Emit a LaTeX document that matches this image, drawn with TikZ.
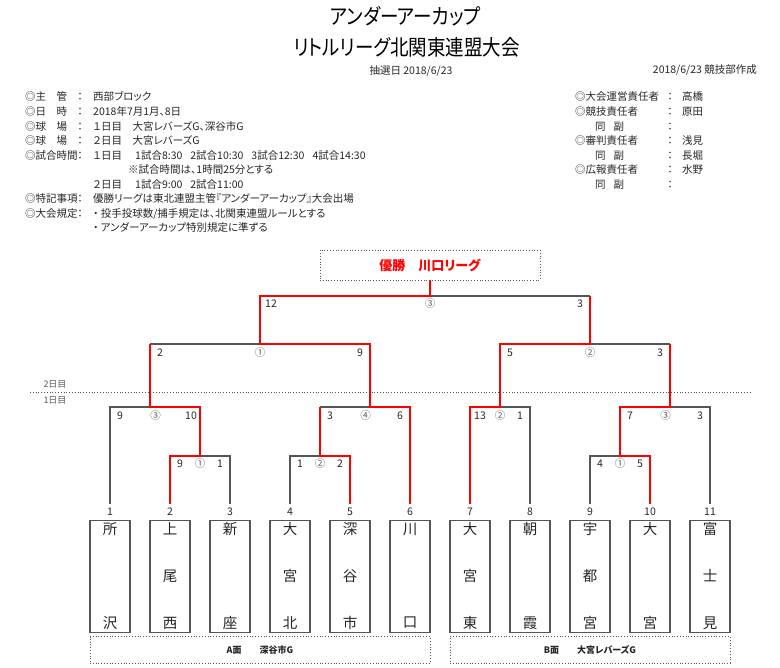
\documentclass[tikz,border=0pt]{standalone}
\usepackage{fontspec}
\setmainfont{Noto Sans CJK JP}[RawFeature=+palt]
\usetikzlibrary{calc}
\definecolor{linegray}{HTML}{555555}
\definecolor{textgray}{HTML}{262626}
\definecolor{circgray}{HTML}{5A5A5A}
\tikzset{
	teambox/.style={draw=linegray, line width=1.2pt, minimum width=40pt, minimum height=111.7pt, inner sep=0pt, anchor=north},
	boxchar/.style={font=\fontsize{14.5}{14.5}\selectfont, text=textgray, inner sep=0pt},
	num/.style={font=\fontsize{10.5}{11}\selectfont, text=textgray, inner sep=0pt},
	circ/.style={font=\fontsize{10.5}{11}\selectfont, text=circgray, inner sep=0pt},
	info/.style={font=\fontsize{10.5}{11}\selectfont, text=textgray, inner sep=0pt, anchor=base west},
	lost/.style={draw=linegray, line width=1.1pt},
	won/.style={draw=red, line width=2pt},
	court/.style={draw=linegray, dotted, line width=0.8pt, minimum height=26.3pt, inner sep=0pt, font=\fontsize{9}{9}\selectfont\bfseries, text=textgray}
}
\newcommand{\team}[5] % x in px, number, top / middle / bottom character
{
	% box and its number
	\node[teambox] (t#2) at (#1,520) {};
	\node[num] (n#2) at (#1,511.7) {#2};
	\coordinate (e#2) at (#1,504);
	% name, written downwards
	\node[boxchar] (t#2a) at (#1,529) {#3};
	\node[boxchar] (t#2b) at (#1,576) {#4};
	\node[boxchar] (t#2c) at (#1,623) {#5};
}
\newcommand{\matchscore}[8] % name, y, then x and text of left, circle, right
{
	\node[num] (#1l) at (#3,#2) {#4};
	\node[circ] (#1m) at (#5,#2) {#6};
	\node[num] (#1r) at (#7,#2) {#8};
}
\newcommand{\inforow}[4] % name, baseline y, label, value
{
	\node[info] (#1l) at (25,#2) {#3};
	\node[info, anchor=base] (#1c) at (80,#2) {：};
	\node[info] (#1v) at (93,#2) {#4};
}
\newcommand{\staffrow}[4] % name, baseline y, label, value
{
	\node[info] (#1l) at (575,#2) {#3};
	\node[info, anchor=base] (#1c) at (670,#2) {：};
	\node[info] (#1v) at (682,#2) {#4};
}

\begin{document}
\begin{tikzpicture}[x=1pt, y=-1pt]
	% 780 x 668 px, y downwards
	\useasboundingbox (0,0) rectangle (780,668);

	% heading
	\node[text=black] (title) at (405.5,16) {\fontsize{21.5}{21.5}\selectfont\scalebox{0.86}[1]{アンダーアーカップ}};
	\node[text=black] (subtitle) at (406.5,47) {\fontsize{21.5}{21.5}\selectfont\scalebox{0.86}[1]{リトルリーグ北関東連盟大会}};
	\node[num] (drawday) at (411,71) {抽選日 2018/6/23};
	\node[num, anchor=east] (made) at (757,70) {2018/6/23 競技部作成};

	% left block
	\inforow{host}{101}{◎主\hspace{10.5pt}管}{西部ブロック}
	\inforow{date}{115.5}{◎日\hspace{10.5pt}時}{2018年7月1月、8日}
	\inforow{parka}{130.5}{◎球\hspace{10.5pt}場}{１日目\hspace{10.5pt}大宮レバーズG、深谷市G}
	\inforow{parkb}{145}{◎球\hspace{10.5pt}場}{２日目\hspace{10.5pt}大宮レバーズG}
	\inforow{time}{159.5}{◎試合時間}{１日目}
	\node[info] (timea) at (135,159.5) {1試合8:30\hspace{8pt}2試合10:30\hspace{8pt}3試合12:30\hspace{8pt}4試合14:30};
	\node[info] (timenote) at (128,174) {※試合時間は、1時間25分とする};
	\node[info] (dayb) at (93,188.5) {２日目};
	\node[info] (timeb) at (135,188.5) {1試合9:00\hspace{8pt}2試合11:00};
	\inforow{note}{203}{◎特記事項}{優勝リーグは東北連盟主管『アンダーアーカップ』大会出場}
	\inforow{rule}{217.5}{◎大会規定}{・ 投手投球数/捕手規定は、北関東連盟ルールとする}
	\node[info] (ruleb) at (93,232) {・ アンダーアーカップ特別規定に準ずる};

	% right block
	\staffrow{boss}{101}{◎大会運営責任者}{高橋}
	\staffrow{tech}{115.5}{◎競技責任者}{原田}
	\staffrow{techsub}{130.5}{\hspace{20pt}同\hspace{8pt}副}{}
	\staffrow{ump}{145}{◎審判責任者}{浅見}
	\staffrow{umpsub}{159.5}{\hspace{20pt}同\hspace{8pt}副}{長堀}
	\staffrow{press}{174}{◎広報責任者}{水野}
	\staffrow{presssub}{188.5}{\hspace{20pt}同\hspace{8pt}副}{}

	% champion
	\node[draw=linegray, dotted, line width=0.8pt, minimum width=220pt, minimum height=30pt, inner sep=0pt,
		text=red, font=\fontsize{13}{13}\selectfont\bfseries] (champ) at (430,265) {優勝\hspace{13pt}川口リーグ};

	% day line
	\draw[linegray, dotted, line width=0.8pt] (30,392.3) -- (750,392.3);
	\node[circ, font=\fontsize{9}{9}\selectfont] (dayii) at (55,384) {2日目};
	\node[circ, font=\fontsize{9}{9}\selectfont] (dayi) at (55,400) {1日目};

	% teams
	\team{110}{1}{所}{}{沢}
	\team{170}{2}{上}{尾}{西}
	\team{230}{3}{新}{}{座}
	\team{290}{4}{大}{宮}{北}
	\team{350}{5}{深}{谷}{市}
	\team{410}{6}{川}{}{口}
	\team{470}{7}{大}{宮}{東}
	\team{530}{8}{朝}{}{霞}
	\team{590}{9}{宇}{都}{宮}
	\team{650}{10}{大}{}{宮}
	\team{710}{11}{富}{士}{見}

	% courts
	\node[court, minimum width=340pt] (courta) at (260,649.8) {A面\hspace{18pt}深谷市G};
	\node[court, minimum width=280pt] (courtb) at (590,649.8) {B面\hspace{18pt}大宮レバーズG};

	% match points
	\coordinate (a1) at (200,456);
	\coordinate (a2) at (320,456);
	\coordinate (a3) at (150,407);
	\coordinate (a4) at (370,407);
	\coordinate (b1) at (620,456);
	\coordinate (b2) at (500,407);
	\coordinate (b3) at (670,407);
	\coordinate (semia) at (260,344);
	\coordinate (semib) at (590,344);
	\coordinate (final) at (430,296);

	% losing sides
	\draw[lost] (e1) |- (a3);
	\draw[lost] (e3) |- (a1);
	\draw[lost] (e4) |- (a2);
	\draw[lost] (a2 |- a4) -- (a4);
	\draw[lost] (e8) |- (b2);
	\draw[lost] (e9) |- (b1);
	\draw[lost] (e11) |- (b3);
	\draw[lost] (a3 |- semia) -- (semia);
	\draw[lost] (semib) -- (b3 |- semib);
	\draw[lost] (final) -- (semib |- final);

	% winning sides
	\draw[won] (e2) |- (a1) |- (a3) -- (a3 |- semia);
	\draw[won] (e5) |- (a2) -- (a2 |- a4);
	\draw[won] (e6) |- (a4) |- (semia) |- (final) -- (champ.south);
	\draw[won] (e7) |- (b2) |- (semib) -- (semib |- final);
	\draw[won] (e10) |- (b1) |- (b3) -- (b3 |- semib);

	% scores
	\matchscore{sa3}{416}{120}{9}{155.7}{③}{191}{10}
	\matchscore{sa1}{464}{180}{9}{200}{①}{220}{1}
	\matchscore{sa2}{464}{300}{1}{320}{②}{340}{2}
	\matchscore{sa4}{416}{330}{3}{365.7}{④}{400}{6}
	\matchscore{sb2}{416}{480}{13}{500}{②}{520}{1}
	\matchscore{sb1}{464}{600}{4}{620}{①}{640}{5}
	\matchscore{sb3}{416}{630}{7}{665.7}{③}{700}{3}
	\matchscore{ssa}{352.7}{160}{2}{260}{①}{360}{9}
	\matchscore{ssb}{352.7}{510}{5}{590}{②}{660}{3}
	\matchscore{sf}{304}{271}{12}{430}{③}{580}{3}
\end{tikzpicture}
\end{document}
